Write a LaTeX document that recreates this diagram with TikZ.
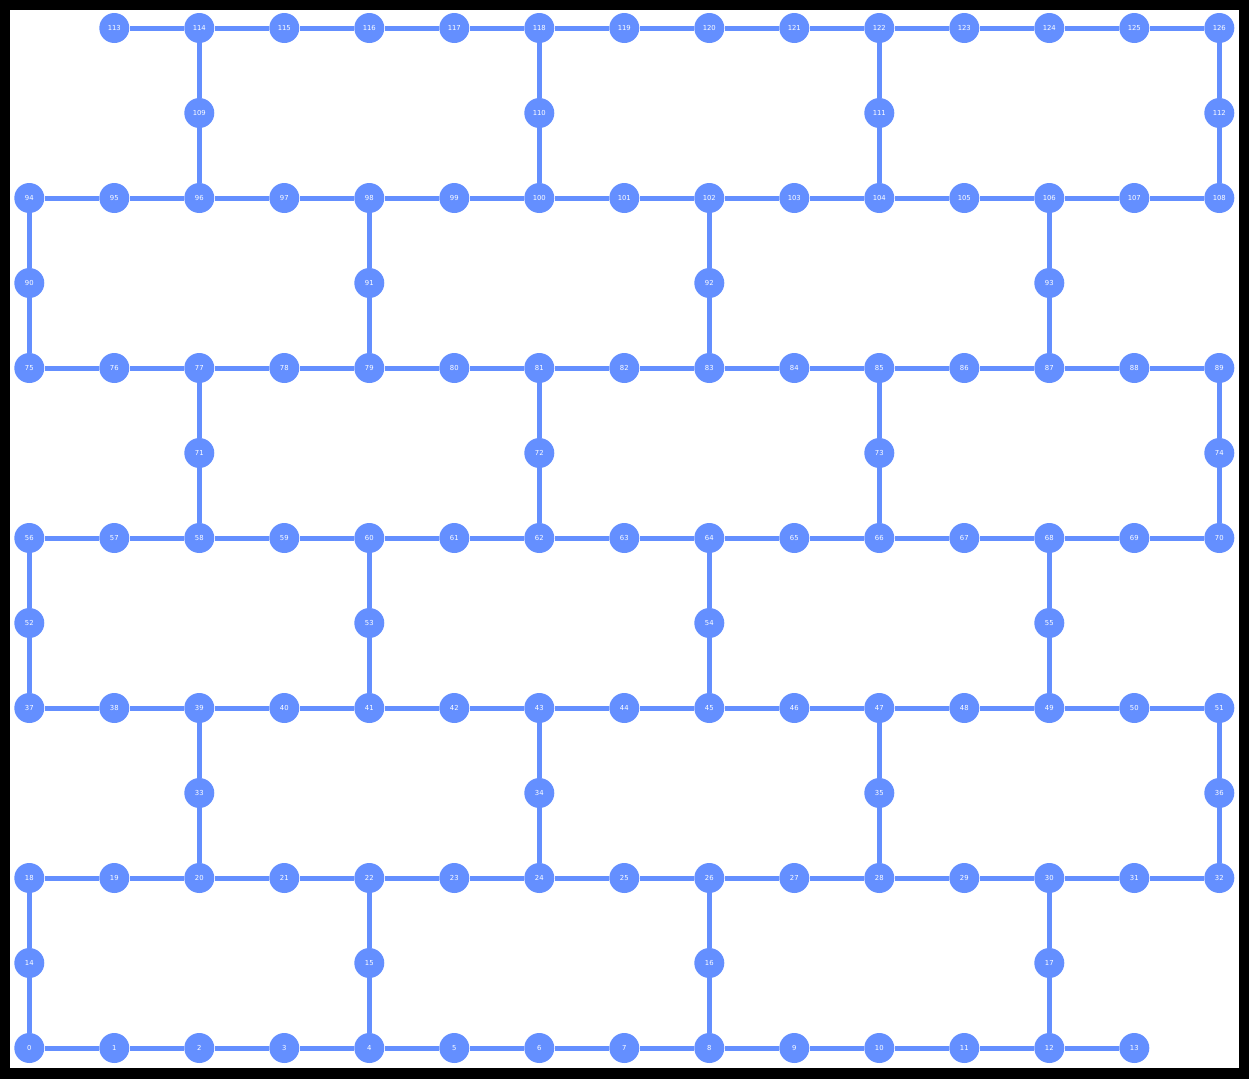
\documentclass[tikz,border=0pt]{standalone}
\usepackage{fontspec}
\setsansfont{DejaVu Sans}
\usetikzlibrary{positioning}
\definecolor{qblue}{HTML}{648FFF}
\tikzset{
  qubit/.style={circle,fill=qblue,minimum size=0.6cm,inner sep=0pt,text=white,font=\sffamily\fontsize{3.9}{4}\selectfont},
  link/.style={qblue,line width=0.1cm}
}

\begin{document}
\begin{tikzpicture}[x=0.02cm,y=-0.02cm]
  \fill[black] (0,0) rectangle (1249,1079);
  \fill[white] (10,10) rectangle (1239,1068);
  % long rows: first qubit / first column / last column / row from bottom
  \foreach \s/\a/\b/\r in {0/0/13/0, 18/0/14/2, 37/0/14/4, 56/0/14/6, 75/0/14/8, 94/0/14/10, 113/1/14/12}{
    \foreach \c in {\a,...,\b}{
      \pgfmathtruncatemacro{\n}{\s+\c-\a}
      \node[qubit] (q\n) at ({29.3+85*\c},{1048-85*\r}) {\n};
    }
    \pgfmathtruncatemacro{\m}{\s+\b-\a-1}
    \foreach \k in {\s,...,\m}{
      \pgfmathtruncatemacro{\kk}{\k+1}
      \draw[link] (q\k) -- (q\kk);
    }
  }
  % bridges: qubit / column / row / lower / upper
  \foreach \n/\c/\r/\lo/\hi in {14/0/1/0/18, 15/4/1/4/22, 16/8/1/8/26, 17/12/1/12/30,
      33/2/3/20/39, 34/6/3/24/43, 35/10/3/28/47, 36/14/3/32/51,
      52/0/5/37/56, 53/4/5/41/60, 54/8/5/45/64, 55/12/5/49/68,
      71/2/7/58/77, 72/6/7/62/81, 73/10/7/66/85, 74/14/7/70/89,
      90/0/9/75/94, 91/4/9/79/98, 92/8/9/83/102, 93/12/9/87/106,
      109/2/11/96/114, 110/6/11/100/118, 111/10/11/104/122, 112/14/11/108/126}{
    \node[qubit] (q\n) at ({29.3+85*\c},{1048-85*\r}) {\n};
    \draw[link] (q\lo) -- (q\n) -- (q\hi);
  }
\end{tikzpicture}
\end{document}
